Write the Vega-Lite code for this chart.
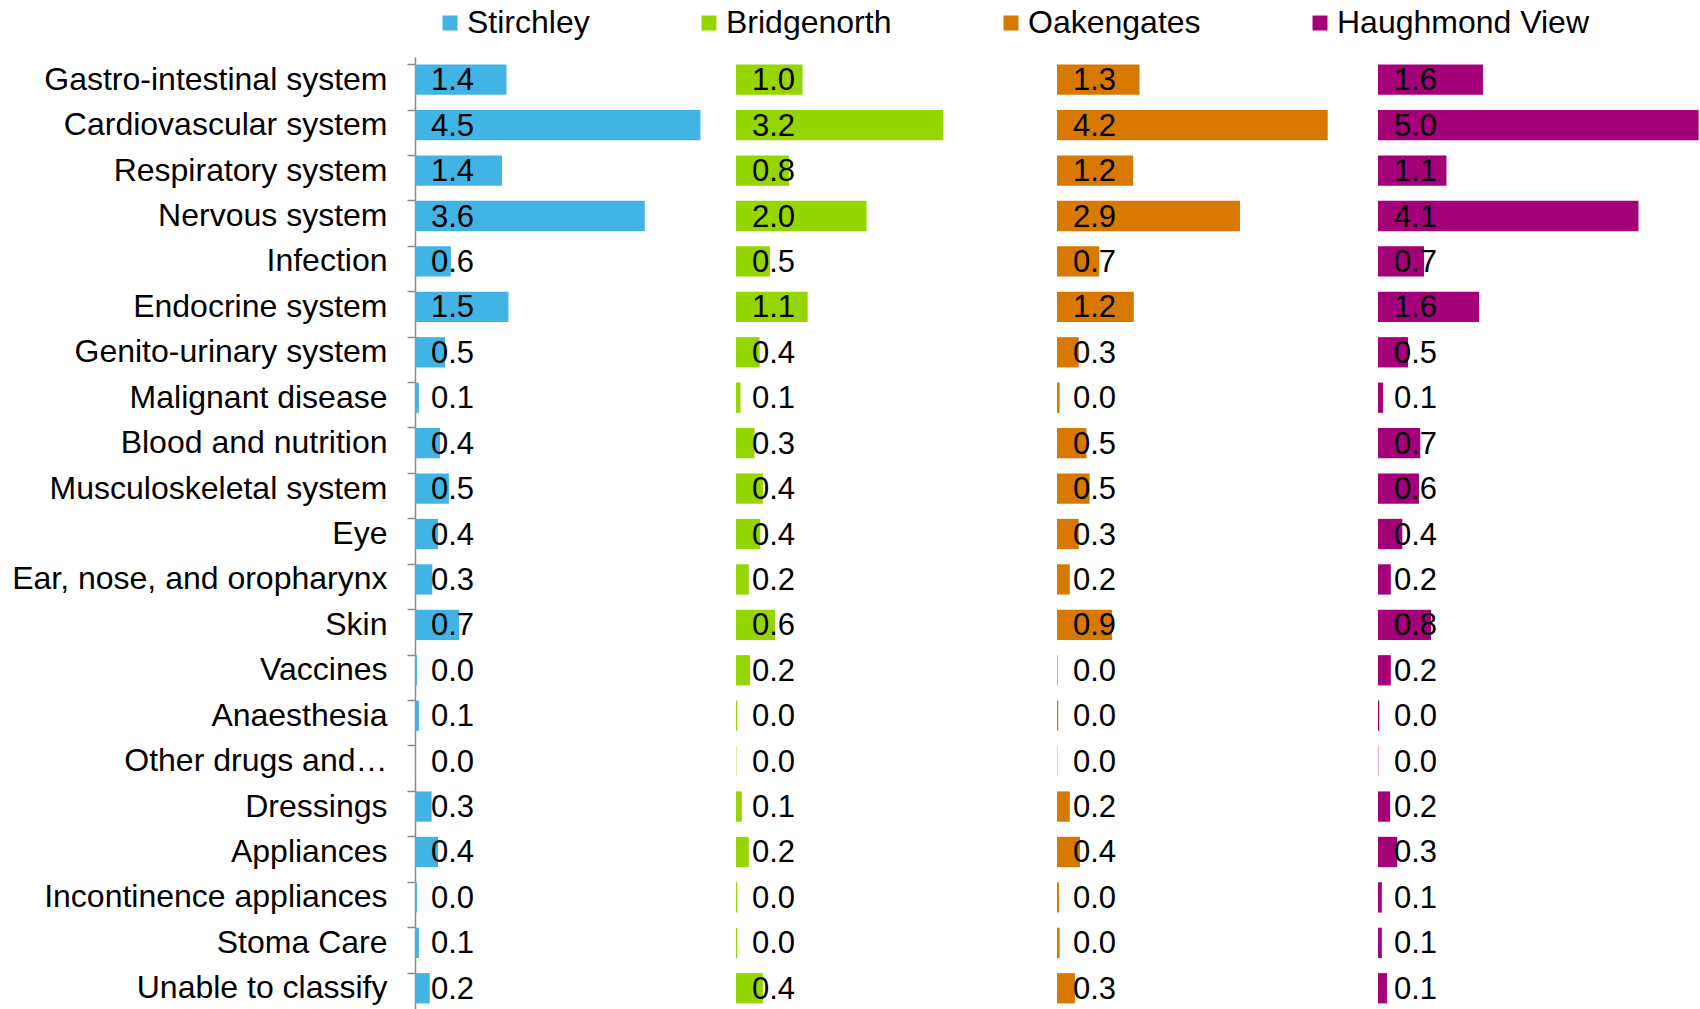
{
  "$schema": "https://vega.github.io/schema/vega-lite/v6.json",
  "padding": {"left": 11, "top": 7, "right": 0, "bottom": 0},
  "background": "white",
  "config": {"view": {"stroke": null}, "font": "Liberation Sans"},
  "data": {"values": [
    {"cat": "Gastro-intestinal system", "area": "Stirchley", "v": 1.43},
    {"cat": "Cardiovascular system", "area": "Stirchley", "v": 4.46},
    {"cat": "Respiratory system", "area": "Stirchley", "v": 1.36},
    {"cat": "Nervous system", "area": "Stirchley", "v": 3.59},
    {"cat": "Infection", "area": "Stirchley", "v": 0.56},
    {"cat": "Endocrine system", "area": "Stirchley", "v": 1.46},
    {"cat": "Genito-urinary system", "area": "Stirchley", "v": 0.47},
    {"cat": "Malignant disease", "area": "Stirchley", "v": 0.06},
    {"cat": "Blood and nutrition", "area": "Stirchley", "v": 0.39},
    {"cat": "Musculoskeletal system", "area": "Stirchley", "v": 0.53},
    {"cat": "Eye", "area": "Stirchley", "v": 0.36},
    {"cat": "Ear, nose, and oropharynx", "area": "Stirchley", "v": 0.27},
    {"cat": "Skin", "area": "Stirchley", "v": 0.69},
    {"cat": "Vaccines", "area": "Stirchley", "v": 0.03},
    {"cat": "Anaesthesia", "area": "Stirchley", "v": 0.06},
    {"cat": "Other drugs and…", "area": "Stirchley", "v": 0.005},
    {"cat": "Dressings", "area": "Stirchley", "v": 0.26},
    {"cat": "Appliances", "area": "Stirchley", "v": 0.36},
    {"cat": "Incontinence appliances", "area": "Stirchley", "v": 0.03},
    {"cat": "Stoma Care", "area": "Stirchley", "v": 0.06},
    {"cat": "Unable to classify", "area": "Stirchley", "v": 0.23},

    {"cat": "Gastro-intestinal system", "area": "Bridgenorth", "v": 1.04},
    {"cat": "Cardiovascular system", "area": "Bridgenorth", "v": 3.24},
    {"cat": "Respiratory system", "area": "Bridgenorth", "v": 0.83},
    {"cat": "Nervous system", "area": "Bridgenorth", "v": 2.04},
    {"cat": "Infection", "area": "Bridgenorth", "v": 0.53},
    {"cat": "Endocrine system", "area": "Bridgenorth", "v": 1.12},
    {"cat": "Genito-urinary system", "area": "Bridgenorth", "v": 0.37},
    {"cat": "Malignant disease", "area": "Bridgenorth", "v": 0.07},
    {"cat": "Blood and nutrition", "area": "Bridgenorth", "v": 0.29},
    {"cat": "Musculoskeletal system", "area": "Bridgenorth", "v": 0.42},
    {"cat": "Eye", "area": "Bridgenorth", "v": 0.38},
    {"cat": "Ear, nose, and oropharynx", "area": "Bridgenorth", "v": 0.2},
    {"cat": "Skin", "area": "Bridgenorth", "v": 0.61},
    {"cat": "Vaccines", "area": "Bridgenorth", "v": 0.22},
    {"cat": "Anaesthesia", "area": "Bridgenorth", "v": 0.02},
    {"cat": "Other drugs and…", "area": "Bridgenorth", "v": 0.005},
    {"cat": "Dressings", "area": "Bridgenorth", "v": 0.09},
    {"cat": "Appliances", "area": "Bridgenorth", "v": 0.2},
    {"cat": "Incontinence appliances", "area": "Bridgenorth", "v": 0.02},
    {"cat": "Stoma Care", "area": "Bridgenorth", "v": 0.02},
    {"cat": "Unable to classify", "area": "Bridgenorth", "v": 0.42},

    {"cat": "Gastro-intestinal system", "area": "Oakengates", "v": 1.29},
    {"cat": "Cardiovascular system", "area": "Oakengates", "v": 4.23},
    {"cat": "Respiratory system", "area": "Oakengates", "v": 1.19},
    {"cat": "Nervous system", "area": "Oakengates", "v": 2.86},
    {"cat": "Infection", "area": "Oakengates", "v": 0.66},
    {"cat": "Endocrine system", "area": "Oakengates", "v": 1.2},
    {"cat": "Genito-urinary system", "area": "Oakengates", "v": 0.34},
    {"cat": "Malignant disease", "area": "Oakengates", "v": 0.04},
    {"cat": "Blood and nutrition", "area": "Oakengates", "v": 0.46},
    {"cat": "Musculoskeletal system", "area": "Oakengates", "v": 0.51},
    {"cat": "Eye", "area": "Oakengates", "v": 0.34},
    {"cat": "Ear, nose, and oropharynx", "area": "Oakengates", "v": 0.2},
    {"cat": "Skin", "area": "Oakengates", "v": 0.86},
    {"cat": "Vaccines", "area": "Oakengates", "v": 0.01},
    {"cat": "Anaesthesia", "area": "Oakengates", "v": 0.02},
    {"cat": "Other drugs and…", "area": "Oakengates", "v": 0.005},
    {"cat": "Dressings", "area": "Oakengates", "v": 0.2},
    {"cat": "Appliances", "area": "Oakengates", "v": 0.36},
    {"cat": "Incontinence appliances", "area": "Oakengates", "v": 0.03},
    {"cat": "Stoma Care", "area": "Oakengates", "v": 0.04},
    {"cat": "Unable to classify", "area": "Oakengates", "v": 0.28},

    {"cat": "Gastro-intestinal system", "area": "Haughmond View", "v": 1.64},
    {"cat": "Cardiovascular system", "area": "Haughmond View", "v": 5.01},
    {"cat": "Respiratory system", "area": "Haughmond View", "v": 1.07},
    {"cat": "Nervous system", "area": "Haughmond View", "v": 4.07},
    {"cat": "Infection", "area": "Haughmond View", "v": 0.72},
    {"cat": "Endocrine system", "area": "Haughmond View", "v": 1.58},
    {"cat": "Genito-urinary system", "area": "Haughmond View", "v": 0.47},
    {"cat": "Malignant disease", "area": "Haughmond View", "v": 0.08},
    {"cat": "Blood and nutrition", "area": "Haughmond View", "v": 0.66},
    {"cat": "Musculoskeletal system", "area": "Haughmond View", "v": 0.64},
    {"cat": "Eye", "area": "Haughmond View", "v": 0.38},
    {"cat": "Ear, nose, and oropharynx", "area": "Haughmond View", "v": 0.2},
    {"cat": "Skin", "area": "Haughmond View", "v": 0.83},
    {"cat": "Vaccines", "area": "Haughmond View", "v": 0.2},
    {"cat": "Anaesthesia", "area": "Haughmond View", "v": 0.02},
    {"cat": "Other drugs and…", "area": "Haughmond View", "v": 0.005},
    {"cat": "Dressings", "area": "Haughmond View", "v": 0.19},
    {"cat": "Appliances", "area": "Haughmond View", "v": 0.3},
    {"cat": "Incontinence appliances", "area": "Haughmond View", "v": 0.06},
    {"cat": "Stoma Care", "area": "Haughmond View", "v": 0.06},
    {"cat": "Unable to classify", "area": "Haughmond View", "v": 0.14}
  ]},
  "facet": {
    "column": {
      "field": "area", "type": "nominal",
      "sort": ["Stirchley", "Bridgenorth", "Oakengates", "Haughmond View"],
      "header": {"labels": false, "title": null},
      "title": null
    }
  },
  "spacing": 0,
  "spec": {
    "width": 321,
    "height": 954,
    "layer": [
      {
        "mark": {"type": "bar"},
        "encoding": {
          "y": {
            "field": "cat", "type": "nominal", "sort": null, "title": null,
            "scale": {"paddingInner": 0.333, "paddingOuter": 0.1667},
            "axis": {
              "bandPosition": 0,
              "tickSize": 8, "tickColor": "#8a8a8a", "tickWidth": 1.5,
              "domainColor": "#8a8a8a", "domainWidth": 1.5,
              "labelFontSize": 32, "labelFont": "Liberation Sans", "labelColor": "#000000",
              "labelPadding": 20, "labelLimit": 600
            }
          },
          "x": {
            "field": "v", "type": "quantitative",
            "scale": {"domain": [0, 5.0156], "nice": false, "zero": true},
            "axis": null
          },
          "color": {
            "field": "area", "type": "nominal",
            "scale": {
              "domain": ["Stirchley", "Bridgenorth", "Oakengates", "Haughmond View"],
              "range": ["#41B3E4", "#95D600", "#D77900", "#A30079"]
            },
            "legend": {
              "orient": "none", "legendX": 19, "legendY": -50,
              "direction": "horizontal", "columns": 4, "title": null,
              "symbolType": "square", "symbolSize": 225, "symbolStrokeWidth": 0,
              "labelFontSize": 32, "labelFont": "Liberation Sans", "labelColor": "#000000",
              "labelOffset": 1, "columnPadding": 103, "padding": 0, "labelLimit": 400
            }
          }
        }
      },
      {
        "mark": {"type": "text", "align": "left", "baseline": "middle", "dx": 16, "dy": 1.5, "fontSize": 31, "font": "Liberation Sans", "color": "#000000"},
        "encoding": {
          "y": {"field": "cat", "type": "nominal", "sort": null},
          "x": {"datum": 0, "type": "quantitative"},
          "text": {"field": "v", "type": "quantitative", "format": ".1f"}
        }
      }
    ]
  }
}
